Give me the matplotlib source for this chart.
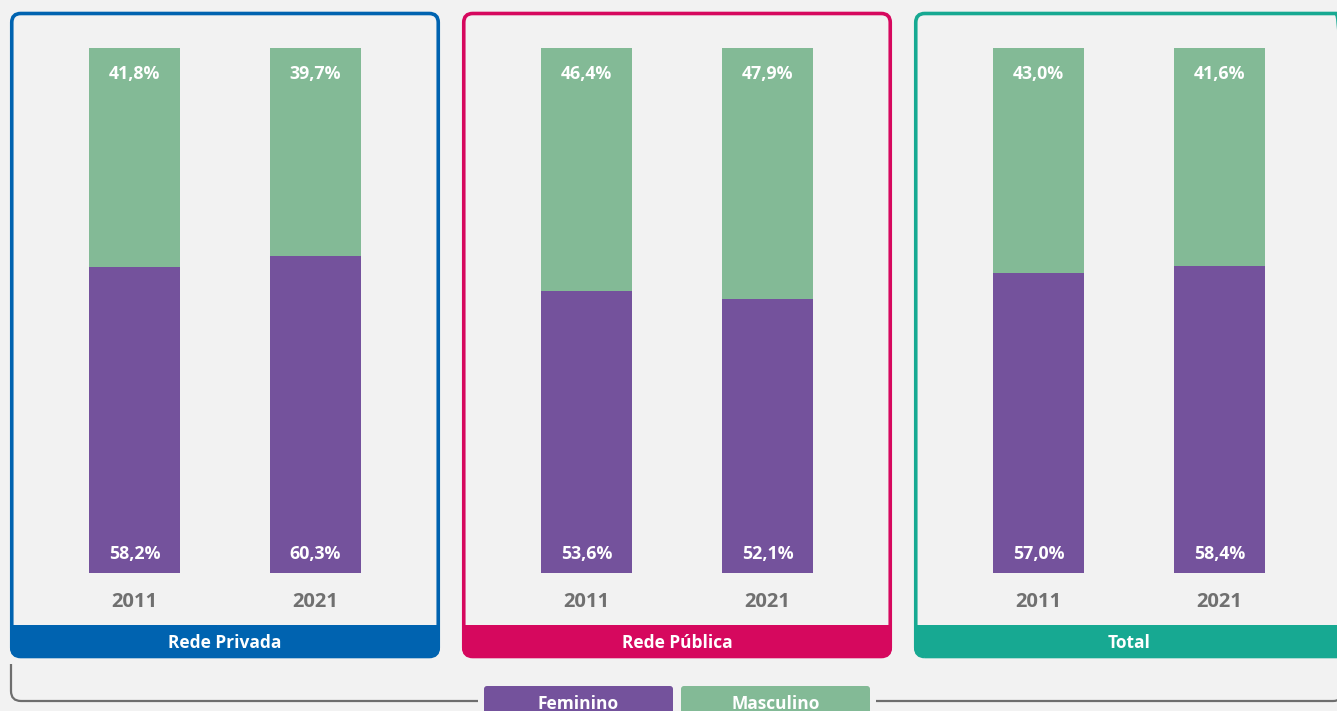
import matplotlib
matplotlib.use('Agg')
import matplotlib.pyplot as plt
from matplotlib.patches import FancyBboxPatch, Rectangle, PathPatch
from matplotlib.path import Path

# data
panels = ['Rede Privada', 'Rede Pública', 'Total']
years = ['2011', '2021']
feminino = [[58.2, 60.3], [53.6, 52.1], [57.0, 58.4]]
masculino = [[41.8, 39.7], [46.4, 47.9], [43.0, 41.6]]
panel_colors = ['#0063b0', '#d6085e', '#17a992']

purple = '#74529c'
green = '#83ba96'
bg = '#f2f2f2'
grey = '#707070'

W, H = 1337, 711
plt.rcParams['font.family'] = ['Open Sans', 'DejaVu Sans']

fig = plt.figure(figsize=(W / 100, H / 100), dpi=100)
fig.patch.set_facecolor(bg)

# background axes in pixel coordinates (y measured from top)
deco = fig.add_axes([0, 0, 1, 1])
deco.set_xlim(0, W)
deco.set_ylim(0, H)
deco.axis('off')


def py(y):
    return H - y


def fmt(v):
    return f'{v:.1f}%'.replace('.', ',')


for i, name in enumerate(panels):
    color = panel_colors[i]
    x0 = 10 + 452 * i
    pw = 430 if i < 2 else 433
    # bottom band
    deco.add_patch(FancyBboxPatch((x0, py(657)), pw, 32,
                                  boxstyle='round,pad=0,rounding_size=10',
                                  facecolor=color, edgecolor='none'))
    deco.add_patch(Rectangle((x0, py(640)), pw, 15, facecolor=color, edgecolor='none'))
    # frame
    deco.add_patch(FancyBboxPatch((x0 + 1.75, py(656.5)), pw - 3.5, 643,
                                  boxstyle='round,pad=0,rounding_size=9',
                                  facecolor='none', edgecolor=color, lw=2.6))
    deco.text(x0 + 215, py(643), name, color='white', fontsize=12.5,
              fontweight='bold', ha='center', va='center')

    # bars
    left = 44 + 452 * i
    ax = fig.add_axes([left / W, (H - 573) / H, 362 / W, 525.5 / H])
    ax.set_xlim(-0.5, 1.5)
    ax.set_ylim(0, 100)
    ax.axis('off')
    xs = range(len(years))
    ax.bar(xs, feminino[i], width=0.503, color=purple)
    ax.bar(xs, masculino[i], width=0.503, bottom=feminino[i], color=green)
    for j in xs:
        ax.text(j, 3.6, fmt(feminino[i][j]), color='white', fontsize=12.8,
                fontweight='bold', ha='center', va='center')
        ax.text(j, 94.9, fmt(masculino[i][j]), color='white', fontsize=12.8,
                fontweight='bold', ha='center', va='center')
        ax.text(j, -29 / 525.5 * 100, years[j], color=grey, fontsize=14.5,
                fontweight='bold', ha='center', va='center', clip_on=False)

# bracket line under the panels
line_kw = dict(facecolor='none', edgecolor='#6e6e6e', lw=1.6)
left_path = Path([(11, py(664)), (11, py(691)), (11, py(701)), (21, py(701)), (478, py(701))],
                 [Path.MOVETO, Path.LINETO, Path.CURVE3, Path.CURVE3, Path.LINETO])
right_path = Path([(876, py(701)), (1333, py(701)), (1343, py(701)), (1343, py(691)), (1343, py(664))],
                  [Path.MOVETO, Path.LINETO, Path.CURVE3, Path.CURVE3, Path.LINETO])
deco.add_patch(PathPatch(left_path, **line_kw))
deco.add_patch(PathPatch(right_path, **line_kw))

# legend
for label, c, lx in [('Feminino', purple, 484), ('Masculino', green, 681)]:
    deco.add_patch(FancyBboxPatch((lx, py(720)), 189, 34,
                                  boxstyle='round,pad=0,rounding_size=3',
                                  facecolor=c, edgecolor='none'))
    deco.text(lx + 94.5, py(704), label, color='white', fontsize=12.5,
              fontweight='bold', ha='center', va='center')

fig.savefig('out.png', dpi=100, facecolor=bg)
